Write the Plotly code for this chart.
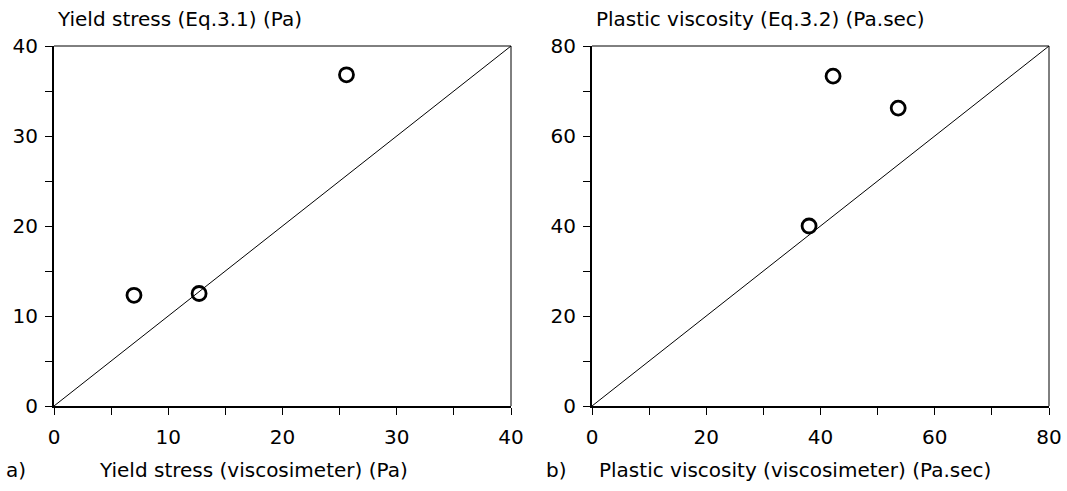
import plotly.graph_objects as go

# Yield stress: viscosimeter vs Eq.3.1 (Pa)
ys_visc = [7.0, 12.7, 25.6]
ys_eq = [12.3, 12.5, 36.8]

# Plastic viscosity: viscosimeter vs Eq.3.2 (Pa.sec)
pv_visc = [38.0, 42.2, 53.6]
pv_eq = [40.0, 73.3, 66.2]

ys_max = 40
pv_max = 80

W, H = 1067, 491
FONT = "DejaVu Sans"
FS = 20

fig = go.Figure()

marker = dict(symbol="circle-open", size=14, color="black", line=dict(width=2.8, color="black"))

# panel a
fig.add_trace(go.Scatter(x=[0, ys_max], y=[0, ys_max], mode="lines",
                         line=dict(color="black", width=1), xaxis="x", yaxis="y", showlegend=False))
fig.add_trace(go.Scatter(x=ys_visc, y=ys_eq, mode="markers", marker=marker,
                         xaxis="x", yaxis="y", showlegend=False))
# panel b
fig.add_trace(go.Scatter(x=[0, pv_max], y=[0, pv_max], mode="lines",
                         line=dict(color="black", width=1), xaxis="x2", yaxis="y2", showlegend=False))
fig.add_trace(go.Scatter(x=pv_visc, y=pv_eq, mode="markers", marker=marker,
                         xaxis="x2", yaxis="y2", showlegend=False))

x1 = (54 / W, 511 / W)
x2 = (592 / W, 1049 / W)
yd = ((H - 406) / H, (H - 46) / H)


def ticks(vmax, step):
    vals = list(range(0, vmax + 1, step))
    text = [str(v) if (v % (2 * step) == 0) else "" for v in vals]
    return vals, text


def axis(domain, vmax, step, anchor, standoff):
    vals, text = ticks(vmax, step)
    return dict(domain=domain, range=[0, vmax], tickvals=vals, ticktext=text,
                ticks="outside", ticklen=7, tickwidth=1, tickcolor="black",
                showline=True, linewidth=2, linecolor="black", showgrid=False,
                zeroline=False, anchor=anchor, fixedrange=True, automargin=False,
                ticklabelstandoff=standoff,
                tickfont=dict(family=FONT, size=FS, color="black"))


fig.update_layout(
    width=W, height=H, autosize=False,
    margin=dict(l=0, r=0, t=0, b=0, pad=0),
    paper_bgcolor="white", plot_bgcolor="white",
    xaxis=axis(x1, ys_max, 5, "y", 5),
    yaxis=axis(yd, ys_max, 5, "x", 3),
    xaxis2=axis(x2, pv_max, 10, "y2", 5),
    yaxis2=axis(yd, pv_max, 10, "x2", 3),
)

# thin top/right borders
for xd in (x1, x2):
    fig.add_shape(type="line", xref="paper", yref="paper", x0=xd[0], x1=xd[1], y0=yd[1], y1=yd[1],
                  line=dict(color="black", width=1))
    fig.add_shape(type="line", xref="paper", yref="paper", x0=xd[1], x1=xd[1], y0=yd[0], y1=yd[1],
                  line=dict(color="black", width=1))

texts = [
    ("Yield stress (Eq.3.1) (Pa)", 55, 19),
    ("Plastic viscosity (Eq.3.2) (Pa.sec)", 594, 19),
    ("a)", 4, 470),
    ("Yield stress (viscosimeter) (Pa)", 97, 470),
    ("b)", 544, 470),
    ("Plastic viscosity (viscosimeter) (Pa.sec)", 597, 470),
]
for t, px, py in texts:
    fig.add_annotation(text=t, x=px / W, y=1 - py / H, xref="paper", yref="paper",
                       xanchor="left", yanchor="middle", showarrow=False,
                       font=dict(family=FONT, size=FS, color="black"))

fig.write_html("out.html", config={"responsive": False})
